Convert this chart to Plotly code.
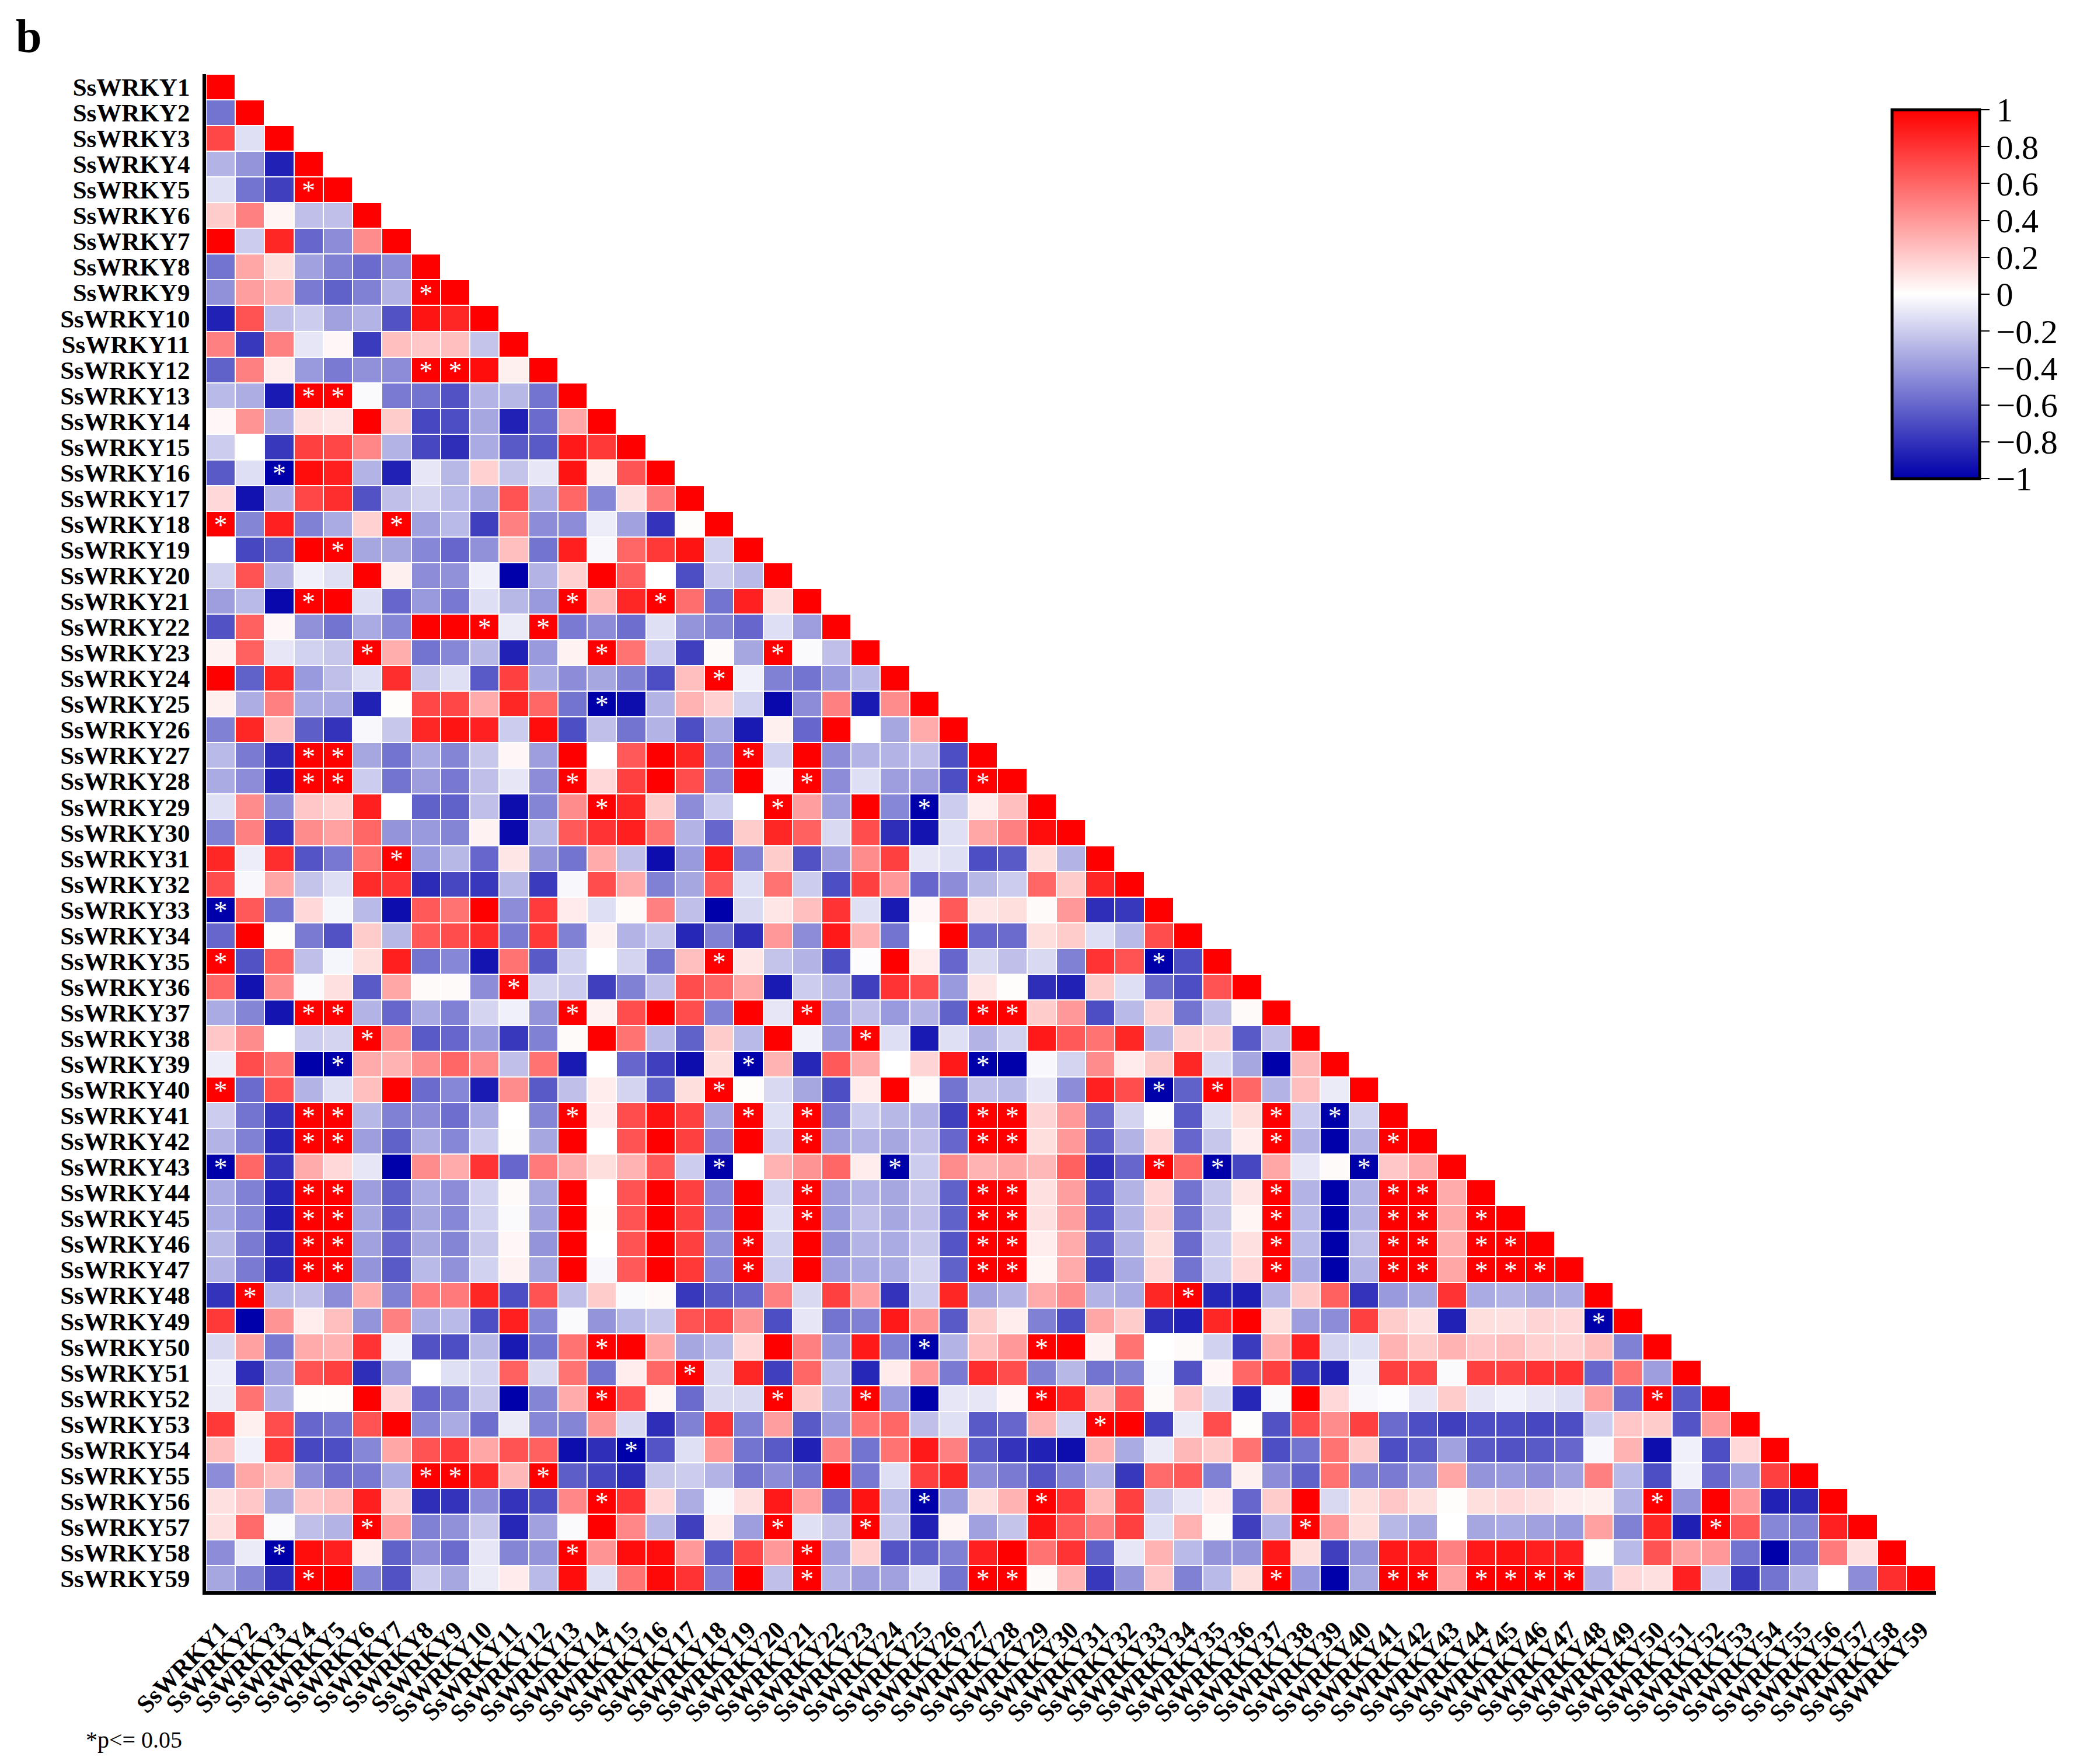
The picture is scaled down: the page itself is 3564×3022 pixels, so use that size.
import plotly.graph_objects as go

genes = [f"SsWRKY{i}" for i in range(1, 60)]

r01 = [1]
r02 = [-.55,1]
r03 = [.72,-.12,1]
r04 = [-.3,-.42,-.87,1]
r05 = [-.12,-.55,-.75,1,1]
r06 = [.2,.5,.04,-.25,-.25,1]
r07 = [1,-.2,.85,-.6,-.45,.45,1]
r08 = [-.55,.35,.13,-.37,-.5,-.58,-.45,1]
r09 = [-.43,.38,.3,-.52,-.62,-.5,-.3,1,1]
r10 = [-.87,.68,-.25,-.2,-.37,-.3,-.68,.92,.85,1]
r11 = [.5,-.78,.5,-.1,.03,-.77,.25,.22,.25,-.23,1]
r12 = [-.62,.5,.07,-.4,-.52,-.43,-.45,1,1,.95,.06,1]
r13 = [-.27,-.32,-.9,1,1,-.02,-.52,-.55,-.68,-.3,-.28,-.55,1]
r14 = [.03,.42,-.32,.12,.1,1,.2,-.72,-.7,-.35,-.87,-.58,.35,1]
r15 = [-.2,0,-.78,.75,.72,.47,-.3,-.72,-.82,-.33,-.65,-.65,.9,.78,1]
r16 = [-.65,-.13,-1,.95,.88,-.3,-.87,-.1,-.28,.18,-.23,-.1,.92,.06,.67,1]
r17 = [.15,-.93,-.3,.72,.82,-.68,-.25,-.17,-.27,-.35,.68,-.32,.6,-.47,.12,.52,1]
r18 = [1,-.48,.87,-.5,-.33,.18,1,-.37,-.27,-.75,.5,-.45,-.45,-.07,-.37,-.8,.01,1]
r19 = [0,-.72,-.62,1,1,-.35,-.35,-.47,-.6,-.43,.25,-.55,.88,-.03,.6,.78,.92,-.18,1]
r20 = [-.18,.68,-.3,-.06,-.12,1,.06,-.45,-.43,-.06,-1,-.3,.18,1,.63,0,-.7,-.2,-.27,1]
r21 = [-.38,-.27,-.97,1,1,-.12,-.6,-.4,-.53,-.13,-.28,-.4,1,.27,.85,1,.57,-.55,.87,.12,1]
r22 = [-.68,.62,.03,-.43,-.55,-.33,-.47,1,1,1,-.08,1,-.52,-.45,-.57,-.12,-.42,-.48,-.6,-.13,-.38,1]
r23 = [.05,.62,-.1,-.18,-.22,1,.32,-.55,-.47,-.28,-.87,-.4,.05,1,.55,-.2,-.75,.02,-.35,1,-.02,-.25,1]
r24 = [1,-.62,.85,-.4,-.25,-.13,.82,-.22,-.12,-.65,.75,-.33,-.45,-.35,-.5,-.7,.25,1,-.06,-.5,-.55,-.4,-.27,1]
r25 = [.06,-.32,.5,-.33,-.33,-.87,.01,.72,.72,.33,.85,.6,-.55,-1,-.95,-.3,.3,.18,-.18,-.97,-.45,.5,-.9,.45,1]
r26 = [-.5,.85,.25,-.63,-.8,-.03,-.22,.85,.92,.87,-.2,.95,-.7,-.25,-.55,-.3,-.7,-.33,-.9,.06,-.6,1,0,-.35,.33,1]
r27 = [-.27,-.52,-.83,1,1,-.35,-.55,-.33,-.48,-.22,.03,-.38,1,0,.65,1,.85,-.45,1,-.18,1,-.45,-.3,-.3,-.25,-.7,1]
r28 = [-.33,-.45,-.88,1,1,-.2,-.55,-.38,-.53,-.25,-.1,-.45,1,.15,.75,1,.7,-.45,1,-.03,1,-.45,-.13,-.38,-.38,-.7,1,1]
r29 = [-.12,.45,-.45,.22,.18,.88,0,-.62,-.62,-.25,-.95,-.48,.45,1,.85,.2,-.45,-.2,0,1,.38,-.38,1,-.47,-1,-.2,.07,.25,1]
r30 = [-.5,.5,-.8,.45,.37,.6,-.42,-.4,-.48,.05,-.97,-.28,.65,.8,.88,.55,-.3,-.6,.2,.85,.62,-.15,.7,-.82,-.92,-.12,.35,.5,.95,1]
r31 = [.85,-.07,.82,-.67,-.53,.55,1,-.4,-.28,-.6,.1,-.42,-.55,.33,-.25,-.95,-.4,.9,-.5,.2,-.68,-.38,.45,.75,-.1,-.12,-.7,-.65,.13,-.3,1]
r32 = [.7,-.03,.35,-.23,-.13,.83,.8,-.83,-.72,-.78,-.28,-.77,-.03,.7,.33,-.5,-.35,.65,-.13,.55,-.2,-.7,.75,.4,-.6,-.45,-.28,-.2,.6,.2,.85,1]
r33 = [-1,.65,-.55,.15,-.04,-.27,-.95,.65,.55,1,-.45,.77,.08,-.13,.02,.5,-.25,-1,-.15,.1,.25,.8,-.12,-.9,.03,.65,.1,.13,.02,.4,-.82,-.78,1]
r34 = [-.6,1,.01,-.52,-.68,.2,-.28,.65,.7,.82,-.52,.78,-.5,.05,-.3,-.22,-.85,-.5,-.82,.4,-.45,.9,.3,-.55,0,1,-.6,-.58,.13,.2,-.13,-.27,.7,1]
r35 = [1,-.68,.62,-.25,-.04,.13,.88,-.55,-.47,-.92,.55,-.65,-.18,0,-.17,-.55,.25,1,.1,-.23,-.3,-.7,-.01,1,.07,-.6,-.15,-.25,-.15,-.5,.8,.68,-1,-.7,1]
r36 = [.6,-.93,.45,-.02,.12,-.65,.35,.02,.02,-.45,1,-.17,-.2,-.75,-.5,-.25,.7,.6,.35,-.9,-.2,-.3,-.75,.8,.7,-.4,.1,.01,-.82,-.87,.2,-.13,-.58,-.7,.68,1]
r37 = [-.33,-.48,-.92,1,1,-.3,-.6,-.33,-.5,-.17,-.06,-.42,1,.05,.7,1,.7,-.5,1,-.1,1,-.4,-.25,-.4,-.3,-.62,1,1,.2,.4,-.7,-.27,.17,-.55,-.25,.02,1]
r38 = [.22,.45,0,-.2,-.17,1,.43,-.65,-.6,-.4,-.78,-.5,.02,1,.55,-.27,-.62,.2,-.27,1,-.05,-.4,1,-.13,-.9,-.12,-.3,-.18,.9,.65,.55,.85,-.3,.17,.17,-.65,-.25,1]
r39 = [-.07,.7,.55,-1,-1,.33,.3,.45,.6,.45,-.25,.55,-.9,0,-.6,-.75,-.95,.13,-1,.3,-.85,.65,.33,0,.17,.9,-1,-1,-.03,-.17,.45,.08,.2,.85,-.15,-.35,-1,.28,1]
r40 = [1,-.58,.68,-.3,-.12,.25,1,-.58,-.47,-.9,.45,-.65,-.25,.07,-.17,-.62,.13,1,.01,-.15,-.35,-.7,.07,1,.02,-.55,-.25,-.27,-.1,-.45,.87,.7,-1,-.62,1,.6,-.3,.25,-.08,1]
r41 = [-.2,-.55,-.8,1,1,-.28,-.5,-.45,-.57,-.33,0,-.48,1,.08,.7,.92,.75,-.35,1,-.12,1,-.52,-.2,-.28,-.3,-.75,1,1,.17,.4,-.58,-.17,.01,-.65,-.12,.13,1,-.2,-1,-.18,1]
r42 = [-.3,-.5,-.85,1,1,-.38,-.62,-.32,-.47,-.2,.01,-.35,1,0,.68,1,.75,-.45,1,-.18,1,-.38,-.3,-.35,-.25,-.6,1,1,.13,.4,-.65,-.3,.15,-.6,-.22,.07,1,-.3,-1,-.3,1,1]
r43 = [-1,.6,-.8,.33,.15,-.1,-1,.45,.33,.8,-.6,.52,.33,.13,.3,.65,-.2,-1,0,.3,.42,.6,.07,-1,-.2,.45,.3,.35,.28,.62,-.82,-.6,1,.6,-1,-.72,.35,-.1,.02,-1,.22,.33,1]
r44 = [-.33,-.5,-.85,1,1,-.38,-.62,-.33,-.45,-.18,.02,-.35,1,0,.68,1,.75,-.45,1,-.17,1,-.38,-.3,-.35,-.23,-.62,1,1,.12,.38,-.7,-.3,.15,-.55,-.22,.1,1,-.3,-1,-.3,1,1,.33,1]
r45 = [-.33,-.47,-.88,1,1,-.35,-.62,-.35,-.47,-.18,-.02,-.37,1,.01,.68,1,.75,-.45,1,-.13,1,-.4,-.25,-.35,-.25,-.62,1,1,.12,.38,-.7,-.3,.17,-.55,-.22,.04,1,-.27,-1,-.3,1,1,.35,1,1]
r46 = [-.28,-.52,-.83,1,1,-.37,-.6,-.35,-.48,-.22,.03,-.42,1,0,.68,1,.75,-.43,1,-.18,1,-.43,-.3,-.33,-.22,-.67,1,1,.07,.33,-.67,-.3,.13,-.58,-.2,.12,1,-.27,-1,-.25,1,1,.32,1,1,1]
r47 = [-.3,-.52,-.82,1,1,-.42,-.65,-.27,-.43,-.18,.05,-.35,1,-.03,.65,1,.78,-.47,1,-.2,1,-.38,-.33,-.33,-.17,-.62,1,1,.04,.33,-.72,-.33,.15,-.55,-.2,.15,1,-.33,-1,-.3,1,1,.35,1,1,1,1]
r48 = [-.8,1,-.27,-.25,-.45,.32,-.5,.52,.52,.85,-.7,.68,-.25,.2,-.02,.02,-.78,-.65,-.6,.5,-.15,.75,.37,-.8,-.2,.85,-.37,-.3,.33,.45,-.3,-.33,.85,1,-.85,-.88,-.3,.2,.62,-.8,-.4,-.35,.8,-.33,-.3,-.35,-.33,1]
r49 = [.78,-1,.42,.07,.25,-.42,.5,-.32,-.27,-.7,.88,-.47,-.02,-.42,-.27,-.22,.68,.72,.42,-.7,-.1,-.55,-.5,.9,.42,-.65,.2,.07,-.5,-.7,.35,.2,-.82,-.87,.85,1,.13,-.38,-.45,.75,.2,.12,-.87,.13,.12,.17,.15,-1,1]
r50 = [-.15,.37,-.52,.33,.3,.8,-.05,-.68,-.7,-.28,-.9,-.55,.55,1,1,.35,-.35,-.27,.15,1,.5,-.4,.9,-.5,-1,-.3,.25,.4,1,1,.05,.55,0,.02,-.18,-.77,.32,.87,-.17,-.12,.3,.2,.3,.22,.25,.18,.17,.25,-.5,1]
r51 = [-.07,-.82,-.37,.68,.75,-.82,-.42,0,-.12,-.17,.62,-.15,.55,-.55,.07,.6,1,-.15,.85,-.75,.6,-.25,-.85,.08,.4,-.52,.82,.7,-.5,-.28,-.55,-.5,-.02,-.68,.03,.6,.75,-.78,-.88,-.06,.75,.72,-.02,.75,.75,.8,.8,-.6,.55,-.38,1]
r52 = [-.08,.55,-.3,.01,.01,1,.15,-.6,-.55,-.22,-1,-.48,.33,1,.7,.04,-.58,-.15,-.15,1,.2,-.3,1,-.4,-1,-.1,-.1,.03,1,.85,.25,.65,.02,.22,-.15,-.85,-.02,1,.15,-.03,-.01,-.1,.2,-.1,-.06,-.1,-.13,.37,-.58,1,-.65,1]
r53 = [.78,.06,.7,-.6,-.55,.68,1,-.47,-.33,-.57,-.08,-.47,-.48,.42,-.15,-.82,-.5,.8,-.5,.38,-.65,-.4,.55,.6,-.25,-.12,-.65,-.6,.3,-.17,1,1,-.75,-.08,.7,.01,-.68,.7,.45,.75,-.58,-.7,-.75,-.7,-.7,-.72,-.7,-.2,.22,.2,-.67,.4,1]
r54 = [.25,-.06,.78,-.72,-.7,-.47,.35,.68,.77,.35,.68,.62,-.95,-.82,-1,-.67,-.12,.4,-.55,-.65,-.87,.5,-.55,.55,.9,.5,-.65,-.8,-.87,-.95,.3,-.33,-.08,.28,.2,.55,-.7,-.55,.55,.2,-.7,-.65,-.37,-.65,-.68,-.65,-.6,-.03,.3,-.95,-.06,-.7,.15,1]
r55 = [-.45,.35,.25,-.45,-.58,-.53,-.33,1,1,.85,.28,1,-.63,-.72,-.82,-.22,-.2,-.3,-.55,-.45,-.55,1,-.53,-.13,.75,.85,-.45,-.52,-.67,-.47,-.3,-.78,.58,.65,-.5,.06,-.45,-.62,.55,-.5,-.52,-.42,.35,-.42,-.4,-.45,-.37,.5,-.27,-.7,-.06,-.6,-.37,.75,1]
r56 = [.12,.22,-.35,.22,.25,.88,.18,-.82,-.8,-.45,-.8,-.7,.47,1,.8,.15,-.32,-.02,.12,.9,.37,-.6,.92,-.27,-1,-.4,.13,.3,1,.8,.27,.75,-.2,-.1,.08,-.6,.2,1,-.15,.13,.22,.13,.01,.13,.15,.12,.07,.06,-.3,1,-.42,1,.4,-.87,-.83,1]
r57 = [.12,.58,-.02,-.25,-.3,1,.37,-.5,-.43,-.22,-.85,-.37,-.02,1,.47,-.28,-.75,.07,-.38,1,-.12,-.23,1,-.22,-.87,.04,-.37,-.23,.92,.65,.5,.75,-.12,.3,.02,-.75,-.3,1,.4,.13,-.28,-.35,0,-.35,-.33,-.37,-.4,.37,-.5,.85,-.88,1,.65,-.47,-.5,.87,1]
r58 = [-.45,-.08,-1,.95,.88,.07,-.62,-.45,-.58,-.1,-.48,-.42,1,.42,.95,.95,.4,-.65,.72,.4,1,-.37,.18,-.67,-.62,-.5,.87,1,.55,.8,-.62,-.1,.3,-.27,-.42,-.42,.9,.13,-.75,-.42,.9,.88,.5,.9,.92,.88,.87,.01,-.27,.67,.37,.4,-.55,-1,-.55,.52,.12,1]
r59 = [-.35,-.48,-.82,1,1,-.47,-.68,-.2,-.35,-.08,.08,-.27,.95,-.12,.55,.97,.8,-.5,1,-.25,1,-.3,-.38,-.37,-.13,-.55,1,1,.02,.3,-.78,-.42,.22,-.5,-.27,.13,1,-.4,-1,-.35,1,1,.37,1,1,1,1,-.3,.15,.12,.87,-.2,-.78,-.55,-.3,0,-.45,.82,1]

rows = [r01,r02,r03,r04,r05,r06,r07,r08,r09,r10,r11,r12,r13,r14,r15,r16,r17,r18,r19,r20,
        r21,r22,r23,r24,r25,r26,r27,r28,r29,r30,r31,r32,r33,r34,r35,r36,r37,r38,r39,r40,
        r41,r42,r43,r44,r45,r46,r47,r48,r49,r50,r51,r52,r53,r54,r55,r56,r57,r58,r59]

bad = [(i + 1, len(r)) for i, r in enumerate(rows) if len(r) != i + 1]
if bad:
    raise SystemExit(f"bad rows: {bad}")

significant = {
    4:[3], 8:[7], 11:[7,8], 12:[3,4], 15:[2], 17:[0,6], 18:[4], 20:[3,12,15], 21:[9,11],
    22:[5,13,19], 23:[17], 24:[13], 26:[3,4,18], 27:[3,4,12,20,26], 28:[13,19,24], 30:[6],
    32:[0], 34:[0,17,32], 35:[10], 36:[3,4,12,20,26,27], 37:[5,22], 38:[4,18,26],
    39:[0,17,32,34], 40:[3,4,12,18,20,26,27,36,38], 41:[3,4,20,26,27,36,40],
    42:[0,17,23,32,34,39], 43:[3,4,20,26,27,36,40,41], 44:[3,4,20,26,27,36,40,41,43],
    45:[3,4,18,26,27,36,40,41,43,44], 46:[3,4,18,26,27,36,40,41,43,44,45], 47:[1,33],
    48:[47], 49:[13,24,28], 50:[16], 51:[13,19,22,28,49], 52:[30], 53:[14], 54:[7,8,11],
    55:[13,24,28,49], 56:[5,19,22,37,51], 57:[2,12,20], 58:[3,20,26,27,36,40,41,43,44,45,46],
}

colorbar_ticks = [1, .8, .6, .4, .2, 0, -.2, -.4, -.6, -.8, -1]
colorbar_labels = ["1", "0.8", "0.6", "0.4", "0.2", "0", "−0.2", "−0.4", "−0.6", "−0.8", "−1"]

# The page body has an 8 px margin, so the figure is 8 px smaller than the window
# and the coordinates below are measured from the figure's corner.
W, H = 3556, 3014
LEFT, RIGHT, TOP, BOTTOM = 345, 3309, 119, 2718
SERIF = "Liberation Serif"

n = len(genes)
z = [r + [None] * (n - len(r)) for r in rows]
idx = list(range(n))

heat = go.Heatmap(
    z=z, x=idx, y=idx, zmin=-1, zmax=1, xgap=2, ygap=2, hoverinfo="skip",
    colorscale=[[0, "#0000AA"], [.5, "#FFFFFF"], [1, "#FF0000"]],
    colorbar=dict(
        x=3234 / W, xanchor="left", xpad=0, y=1 - 180 / H, yanchor="top", ypad=0,
        thicknessmode="pixels", thickness=150, lenmode="pixels", len=632,
        outlinewidth=5, outlinecolor="black", ticks="outside", ticklen=15, tickwidth=2,
        tickcolor="black", tickmode="array", tickvals=colorbar_ticks, ticktext=colorbar_labels,
        tickfont=dict(family=SERIF, size=58, color="black"),
    ),
)
star_x = [c for r, cs in significant.items() for c in cs]
star_y = [r + 0.13 for r, cs in significant.items() for c in cs]
stars = go.Scatter(
    x=star_x, y=star_y, mode="text", text=["*"] * len(star_x), textposition="middle center",
    textfont=dict(family=SERIF, size=46, color="white"), hoverinfo="skip", showlegend=False,
)

fig = go.Figure([heat, stars])
axis_font = dict(family=SERIF, size=43, color="black", weight="bold")
fig.update_layout(
    width=W, height=H, margin=dict(l=0, r=0, t=0, b=0, autoexpand=False), plot_bgcolor="white", paper_bgcolor="white",
    showlegend=False,
    xaxis=dict(domain=[LEFT / W, RIGHT / W], range=[-.5, n - .5], tickmode="array", tickvals=idx, automargin=False,
               ticktext=genes, tickangle=-45, tickfont=axis_font, showgrid=False, zeroline=False,
               showline=True, linecolor="black", linewidth=6, ticks="", ticklabelstandoff=18),
    yaxis=dict(domain=[1 - BOTTOM / H, 1 - TOP / H], range=[n - .5, -.5], tickmode="array", tickvals=idx, automargin=False,
               ticktext=genes, tickfont=axis_font, showgrid=False, zeroline=False,
               showline=True, linecolor="black", linewidth=6, ticks="", ticklabelstandoff=13),
    annotations=[
        dict(text="<b>b</b>", xref="paper", yref="paper", x=17 / W, y=1 - 8 / H, xanchor="left", yanchor="top",
             showarrow=False, font=dict(family=SERIF, size=80, color="black")),
        dict(text="*p<= 0.05", xref="paper", yref="paper", x=137 / W, y=1 - 2972 / H, xanchor="left", yanchor="middle",
             showarrow=False, font=dict(family=SERIF, size=40, color="black")),
    ],
)
fig.write_html("out.html")
